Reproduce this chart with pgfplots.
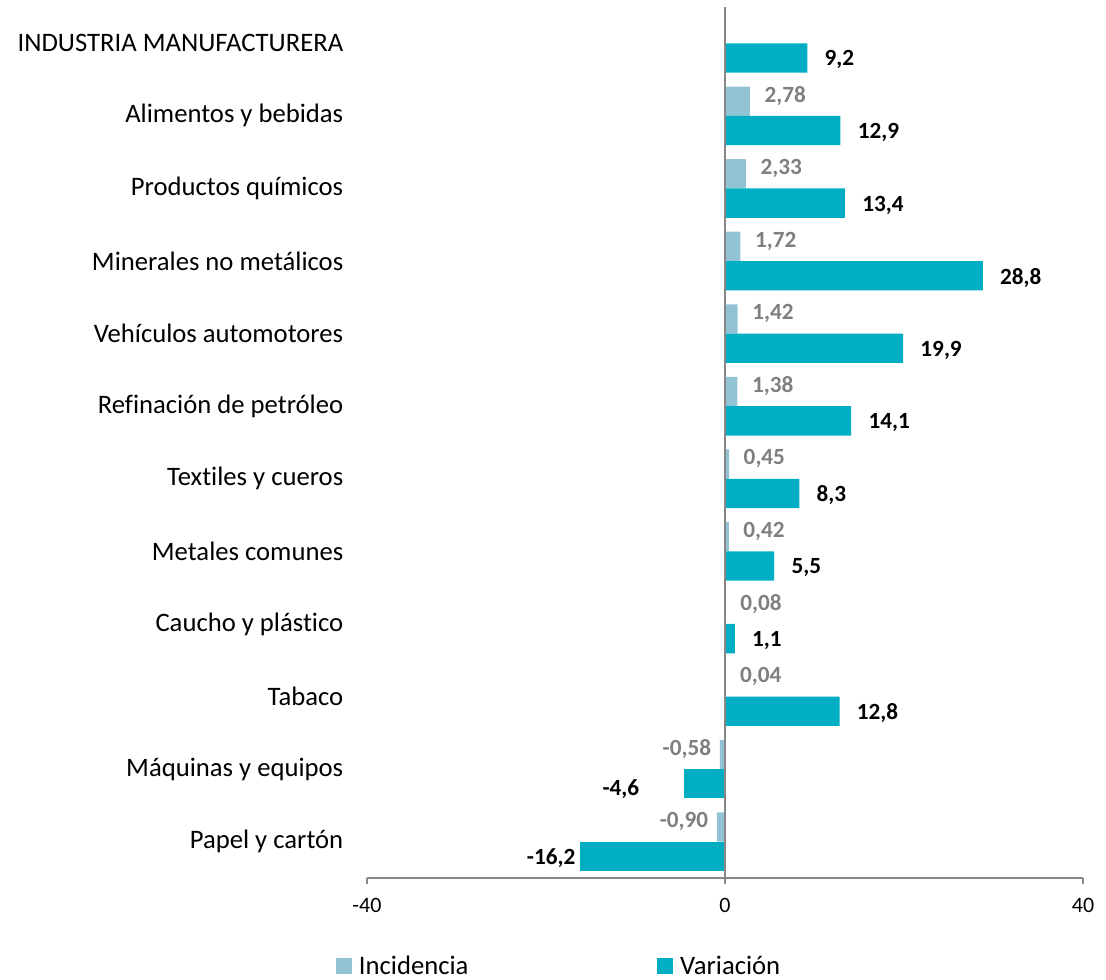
\documentclass[border=0pt]{standalone}
\usepackage{fontspec}
\setmainfont{Carlito}[Ligatures=NoCommon]
\usepackage{pgfplots}
\pgfplotsset{compat=1.18}
\usetikzlibrary{calc}

\definecolor{inccol}{HTML}{92C3D4}
\definecolor{varcol}{HTML}{00AEC4}
\definecolor{axgray}{HTML}{878787}
\definecolor{labgray}{HTML}{7F7F7F}

\pgfplotsset{
  lab/.style={
    point meta=explicit symbolic,
    nodes near coords,
    nodes near coords style={font=\bfseries\fontsize{17.4}{20}\selectfont},
  },
  inc/.style={fill=inccol, draw=none, bar shift=11pt, lab,
    nodes near coords style={text=labgray, yshift=4pt}},
  var/.style={fill=varcol, draw=none, bar shift=-11pt, lab,
    nodes near coords style={text=black, yshift=-1.5pt}},
}

\begin{document}
\begin{tikzpicture}
\begin{axis}[
    name=ax,
    xbar,
    scale only axis,
    width=537pt,
    height=653.25pt,
    xmin=-40, xmax=40,
    ymin=-0.5, ymax=11.5,
    axis lines*=left,
    y axis line style={draw=none},
    x axis line style={axgray, line width=1.2pt},
    xtick={-40,0,40},
    xticklabels={-40,0,40},
    xtick align=outside,
    major tick length=4.5pt,
    xtick style={axgray, line width=1.2pt},
    xticklabel style={font=\fontsize{16.5}{19}\selectfont, yshift=-7.5pt},
    ytick={0,...,11},
    yticklabels={Papel y cartón, Máquinas y equipos, Tabaco, Caucho y plástico,
      Metales comunes, Textiles y cueros, Refinación de petróleo,
      Vehículos automotores, Minerales no metálicos, Productos químicos,
      Alimentos y bebidas, INDUSTRIA MANUFACTURERA},
    ytick align=inside,
    ytick style={draw=none},
    yticklabel style={font=\fontsize{20}{24}\selectfont, xshift=-14.3pt},
    bar width=22pt,
    legend columns=2,
    legend style={draw=none, at={(-0.0489,-0.1012)}, anchor=west,
      font=\fontsize{20}{24}\selectfont,
      nodes={inner ysep=0.5pt},
      /tikz/every even column/.append style={column sep=139.75pt}},
    legend image code/.code={
      \fill[#1, draw=none] (0pt,-5.75pt) rectangle (11.5pt,5.75pt);
      \path (0pt,0pt) -- (15pt,0pt);},
  ]
  % Incidencia (y = category index from the bottom)
  \addplot[inc, nodes near coords style={anchor=west, xshift=7.5pt}] coordinates {
    (2.78,10) [2,78]
    (2.33,9)  [2,33]
    (1.72,8)  [1,72]
    (1.42,7)  [1,42]
    (1.38,6)  [1,38]
    (0.45,5)  [0,45]
    (0.42,4)  [0,42]
    (0.08,3)  [0,08]
    (0.04,2)  [0,04]
  };
  % Variación
  \addplot[var, nodes near coords style={anchor=west, xshift=9.5pt}] coordinates {
    (9.2,11)  [9,2]
    (12.9,10) [12,9]
    (13.4,9)  [13,4]
    (28.8,8)  [28,8]
    (19.9,7)  [19,9]
    (14.1,6)  [14,1]
    (8.3,5)   [8,3]
    (5.5,4)   [5,5]
    (1.1,3)   [1,1]
    (12.8,2)  [12,8]
  };
  \addplot[inc, forget plot, nodes near coords style={anchor=east, xshift=-3pt}] coordinates {
    (-0.58,1) [-0,58]
    (-0.90,0) [-0,90]
  };
  \addplot[var, forget plot, nodes near coords style={anchor=east, xshift=-30pt, yshift=-2.5pt}] coordinates {
    (-4.6,1) [-4,6]
  };
  \addplot[var, forget plot, nodes near coords style={anchor=east, xshift=0pt}] coordinates {
    (-16.2,0) [-16,2]
  };
  \legend{Incidencia, Variación}
  \draw[axgray, line width=1.2pt] (axis cs:0,-0.5) -- (axis cs:0,11.5);
\end{axis}
\pgfresetboundingbox
\useasboundingbox ($(ax.south west)+(-275.25pt,-75.75pt)$) rectangle ($(ax.south west)+(554.25pt,658.5pt)$);
\end{tikzpicture}
\end{document}
